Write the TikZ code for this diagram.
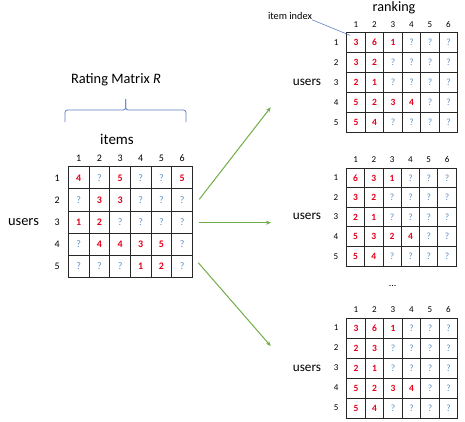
\documentclass[tikz,border=0pt]{standalone}
\usepackage{fontspec}
\setmainfont{Carlito}
\usetikzlibrary{matrix,arrows.meta,calc}
\definecolor{numred}{HTML}{E3001B}
\definecolor{qblue}{HTML}{5A8EC6}
\definecolor{agreen}{HTML}{70AD47}
\definecolor{bblue}{HTML}{5B7FC4}
\definecolor{gridc}{HTML}{262626}
\newcommand\rn[1]{\textcolor{numred}{\bfseries #1}}
\newcommand\qm{\textcolor{qblue}{?}}
\tikzset{
  cellbase/.style={draw=gridc, line width=1pt, inner sep=0pt, text height=6.5pt, text depth=0pt, anchor=center},
  cellL/.style={cellbase, minimum width=20.67pt, minimum height=22.2pt, font=\fontsize{10}{11}\selectfont},
  cellR/.style={cellbase, minimum width=18.5pt, minimum height=20pt, font=\fontsize{9.5}{10}\selectfont},
  cellM/.style={cellbase, minimum width=18.3pt, minimum height=19.6pt, font=\fontsize{9.5}{10}\selectfont},
  gridL/.style={matrix of nodes, inner sep=0pt, column sep=-1pt, row sep=-1pt, nodes={cellL}},
  gridR/.style={matrix of nodes, inner sep=0pt, column sep=-1pt, row sep=-1pt, nodes={cellR}},
  gridM/.style={matrix of nodes, inner sep=0pt, column sep=-1pt, row sep=-1pt, nodes={cellM}},
  hdrL/.style={inner sep=0pt, font=\fontsize{10}{11}\selectfont},
  hdrR/.style={inner sep=0pt, font=\fontsize{9}{10}\selectfont},
  lbl/.style={inner sep=0pt, font=\fontsize{14.4}{16}\selectfont},
  ulbl/.style={inner sep=0pt, font=\fontsize{13.2}{15}\selectfont},
  garrow/.style={draw=agreen, line width=1pt, -{Stealth[length=5pt,width=4pt]}},
  bracepart/.style={draw=bblue, line width=0.8pt, rounded corners=2.5pt},
}
\begin{document}
\begin{tikzpicture}[x=1pt,y=-1pt]
\useasboundingbox (0,0) rectangle (465,421);

% ---------- left rating matrix ----------
\matrix (L) [gridL, anchor=north west] at (67.7,166) {
\rn{4} & \qm & \rn{5} & \qm & \qm & \rn{5} \\
\qm & \rn{3} & \rn{3} & \qm & \qm & \qm \\
\rn{1} & \rn{2} & \qm & \qm & \qm & \qm \\
\qm & \rn{4} & \rn{4} & \rn{3} & \rn{5} & \qm \\
\qm & \qm & \qm & \rn{1} & \rn{2} & \qm \\
};
\foreach \c in {1,...,6} \path (L-1-\c.north) ++(0,-8.3) node[hdrL] (Lh\c) {\c};
\foreach \r in {1,...,5} \path (L-\r-1.west) ++(-10.7,0) node[hdrL] (Lr\r) {\r};
\node[lbl] (Lusers) at (23.5,222) {users};
\node[inner sep=0pt, font=\fontsize{15}{17}\selectfont] (items) at (117,139) {items};
\node[lbl] (title) at (116,80) {Rating Matrix \textit{R}};
\coordinate (bl) at (65,122);
\coordinate (br) at (186,122);
\coordinate (bt) at (125.7,99);
\draw[bracepart] (bl) -- (65,110) -- (125.7,110) -- (bt);
\draw[bracepart] (br) -- (186,110) -- (125.7,110) -- (bt);

% ---------- top right ranking ----------
\matrix (A) [gridR, anchor=north west] at (346,31.7) {
\rn{3} & \rn{6} & \rn{1} & \qm & \qm & \qm \\
\rn{3} & \rn{2} & \qm & \qm & \qm & \qm \\
\rn{2} & \rn{1} & \qm & \qm & \qm & \qm \\
\rn{5} & \rn{2} & \rn{3} & \rn{4} & \qm & \qm \\
\rn{5} & \rn{4} & \qm & \qm & \qm & \qm \\
};
\foreach \c in {1,...,6} \path (A-1-\c.north) ++(0,-7.6) node[hdrR] (Ah\c) {\c};
\foreach \r in {1,...,5} \path (A-\r-1.west) ++(-10,0) node[hdrR] (Ar\r) {\r};
\node[ulbl] (Ausers) at (307,82) {users};
\node[inner sep=0pt, font=\fontsize{14.2}{16}\selectfont] (ranking) at (394,7.5) {ranking};
\node[inner sep=0pt, font=\fontsize{10.3}{12}\selectfont] (idx) at (290,16) {item index};
\coordinate (idxend) at ($(A-1-1.north west)+(4,3.5)$);
\draw[bblue, line width=0.6pt] (idx.south east) -- (idxend);

% ---------- middle ranking ----------
\matrix (B) [gridM, anchor=north west] at (345.7,167.3) {
\rn{6} & \rn{3} & \rn{1} & \qm & \qm & \qm \\
\rn{3} & \rn{2} & \qm & \qm & \qm & \qm \\
\rn{2} & \rn{1} & \qm & \qm & \qm & \qm \\
\rn{5} & \rn{3} & \rn{2} & \rn{4} & \qm & \qm \\
\rn{5} & \rn{4} & \qm & \qm & \qm & \qm \\
};
\foreach \c in {1,...,6} \path (B-1-\c.north) ++(0,-8.3) node[hdrR] (Bh\c) {\c};
\foreach \r in {1,...,5} \path (B-\r-1.west) ++(-10,0) node[hdrR] (Br\r) {\r};
\node[ulbl] (Busers) at (307,216) {users};

% ---------- bottom ranking ----------
\node[inner sep=0pt, font=\fontsize{10}{12}\selectfont] (dots) at (392.7,286) {...};
\matrix (C) [gridR, anchor=north west] at (346,317.3) {
\rn{3} & \rn{6} & \rn{1} & \qm & \qm & \qm \\
\rn{2} & \rn{3} & \qm & \qm & \qm & \qm \\
\rn{2} & \rn{1} & \qm & \qm & \qm & \qm \\
\rn{5} & \rn{2} & \rn{3} & \rn{4} & \qm & \qm \\
\rn{5} & \rn{4} & \qm & \qm & \qm & \qm \\
};
\foreach \c in {1,...,6} \path (C-1-\c.north) ++(0,-8.3) node[hdrR] (Ch\c) {\c};
\foreach \r in {1,...,5} \path (C-\r-1.west) ++(-10,0) node[hdrR] (Cr\r) {\r};
\node[ulbl] (Cusers) at (307,368) {users};

% ---------- arrows ----------
\coordinate (s1) at (199.3,199.3);
\coordinate (e1) at (270.7,107.3);
\coordinate (s2) at (199.3,222.7);
\coordinate (e2) at (271,222.7);
\coordinate (s3) at (198.3,262.7);
\coordinate (e3) at (270.7,346);
\draw[garrow] (s1) -- (e1);
\draw[garrow] (s2) -- (e2);
\draw[garrow] (s3) -- (e3);
\end{tikzpicture}
\end{document}
